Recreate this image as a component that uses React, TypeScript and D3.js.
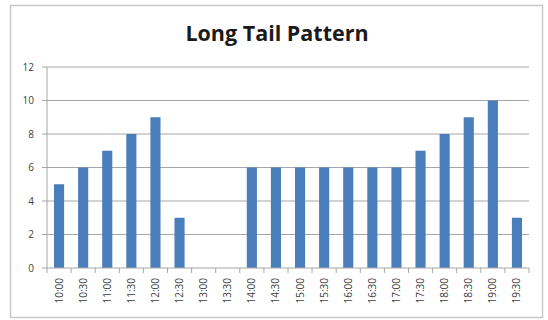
import React from "react";
import * as d3 from "d3";

const categories = [
  "10:00", "10:30", "11:00", "11:30", "12:00", "12:30", "13:00", "13:30",
  "14:00", "14:30", "15:00", "15:30", "16:00", "16:30", "17:00", "17:30",
  "18:00", "18:30", "19:00", "19:30",
];
const values = [5, 6, 7, 8, 9, 3, 0, 0, 6, 6, 6, 6, 6, 6, 6, 7, 8, 9, 10, 3];
const yTicks = [0, 2, 4, 6, 8, 10, 12];
const title = "Long Tail Pattern";

const W = 548;
const H = 320;
const plot = { left: 47, right: 529, top: 67, bottom: 268 };

export default function App() {
  const x = d3
    .scaleBand<string>()
    .domain(categories)
    .range([plot.left, plot.right])
    .paddingInner(0.58)
    .paddingOuter(0.29);
  const step = x.step();
  const y = d3.scaleLinear().domain([0, 12]).range([plot.bottom, plot.top]);
  const font = "'Open Sans', 'DejaVu Sans', sans-serif";

  return (
    <svg
      width={W}
      height={H}
      style={{ position: "absolute", left: 0, top: 0, background: "#fff" }}
    >
      <rect x={10.5} y={5.5} width={532} height={312} fill="#fff" stroke="#c8c8c8" strokeWidth={1.5} />
      <text
        x={277}
        y={41}
        textAnchor="middle"
        fontFamily={font}
        fontWeight={700}
        fontSize={21.5}
        fill="#1a1a1a"
      >
        {title}
      </text>

      {/* horizontal gridlines and y tick labels */}
      {yTicks.map((t) => (
        <g key={t}>
          {t > 0 && (
            <line x1={plot.left} x2={plot.right} y1={y(t)} y2={y(t)} stroke="#a6a6a6" strokeWidth={1} />
          )}
          <line x1={plot.left - 5} x2={plot.left} y1={y(t)} y2={y(t)} stroke="#a6a6a6" strokeWidth={1} />
          <text
            x={34}
            y={y(t)}
            dy="0.35em"
            textAnchor="end"
            fontFamily={font}
            fontSize={10}
            fill="#404040"
          >
            {t}
          </text>
        </g>
      ))}

      {/* bars */}
      {categories.map((c, i) => (
        <rect
          key={c}
          x={x(c)}
          y={y(values[i])}
          width={x.bandwidth()}
          height={y(0) - y(values[i])}
          fill="#4a7ebb"
        />
      ))}

      {/* axes */}
      <line x1={plot.left} x2={plot.left} y1={plot.top} y2={plot.bottom} stroke="#a6a6a6" />
      <line x1={plot.left} x2={plot.right} y1={plot.bottom} y2={plot.bottom} stroke="#a6a6a6" />
      {d3.range(categories.length + 1).map((i) => (
        <line
          key={i}
          x1={plot.left + i * step}
          x2={plot.left + i * step}
          y1={plot.bottom}
          y2={plot.bottom + 5}
          stroke="#a6a6a6"
        />
      ))}

      {/* rotated category labels */}
      {categories.map((c) => {
        const cx = (x(c) ?? 0) + x.bandwidth() / 2;
        return (
          <text
            key={c}
            transform={`translate(${cx},${plot.bottom + 10}) rotate(-90)`}
            textAnchor="end"
            dy="0.35em"
            fontFamily={font}
            fontSize={10}
            fill="#404040"
          >
            {c}
          </text>
        );
      })}
    </svg>
  );
}
